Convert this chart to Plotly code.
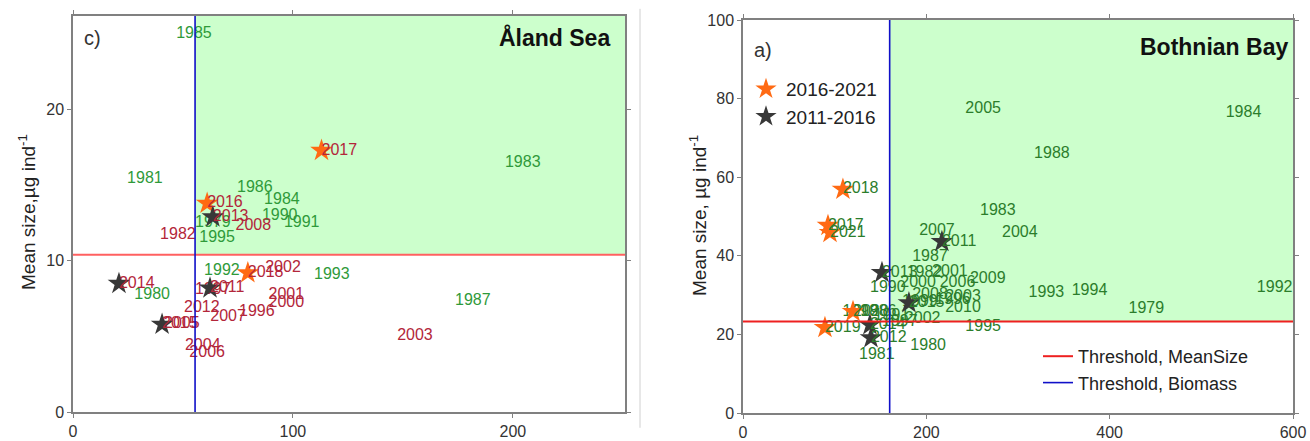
import plotly.graph_objects as go

W, H = 1310, 441

# ---------------- Left panel: Aland Sea ----------------
L_green_years = ["1985", "1981", "1986", "1984", "1990", "1991", "1979", "1995", "1992", "1993", "1987", "1983", "1980"]
L_green_x = [55, 32.7, 82.7, 95, 94, 104, 63.6, 65.5, 67.7, 117.7, 181.8, 204.5, 36]
L_green_y = [25.0, 15.4, 14.8, 14.0, 13.0, 12.5, 12.5, 11.5, 9.3, 9.07, 7.35, 16.5, 7.75]

L_red_years = ["1982", "2008", "2002", "2001", "2000", "1996", "2007", "2012", "2005", "2004", "2006", "2003", "1997"]
L_red_x = [47.7, 82, 95.5, 97, 97, 83.6, 70.5, 58.6, 49.5, 59, 61, 155.5, 63.6]
L_red_y = [11.7, 12.3, 9.5, 7.75, 7.2, 6.6, 6.3, 6.9, 5.8, 4.4, 3.9, 5.0, 8.1]

L_orange_years = ["2016", "2017", "2018"]
L_orange_x = [61, 113, 79.5]
L_orange_y = [13.8, 17.3, 9.2]

L_black_years = ["2013", "2014", "2011", "2015"]
L_black_x = [63.6, 20.9, 62.3, 40.5]
L_black_y = [12.9, 8.5, 8.2, 5.8]

L_thr_size = 10.4
L_thr_biomass = 55.5
L_xmax, L_ymax = 251, 26.2

# ---------------- Right panel: Bothnian Bay ----------------
R_green_years = ["2005", "1984", "1988", "1983", "2004", "2007", "1987", "1982", "2001", "2009",
                 "1993", "1994", "1979", "1992", "1990", "2000", "2006", "2008", "2003", "1996",
                 "1999", "2010", "1995", "1980", "1981", "2002", "1998", "1986", "1991", "1997"]
R_green_x = [262, 546, 337, 278, 302, 211.6, 204, 198, 225.7, 267,
             331, 378, 440, 580, 158, 191, 234, 204, 240, 229,
             193, 240, 262, 202, 146, 196, 128, 148, 162, 171]
R_green_y = [77.3, 76.3, 65.8, 51.5, 45.7, 46.4, 39.8, 35.7, 36.0, 34,
             30.6, 31.1, 26.5, 31.9, 31.9, 33, 33, 30, 29.6, 28.8,
             28.3, 26.8, 22, 17.1, 14.8, 24, 25.8, 25.8, 24.7, 23.2]

R_orange_years = ["2018", "2017", "2021", "2020", "2019"]
R_orange_x = [109, 92.7, 94.9, 120, 89.4]
R_orange_y = [56.9, 47.7, 45.9, 25.8, 21.7]

R_black_years = ["2011", "2013", "2015", "2014", "2012"]
R_black_x = [217, 151.6, 181, 138.5, 139.6]
R_black_y = [43.6, 35.7, 28, 22.4, 19.1]

R_thr_size = 23.3
R_thr_biomass = 160
R_xmax, R_ymax = 600, 100

# ---------------- styles ----------------
FONT = "Liberation Sans, Arial, sans-serif"
GREEN_L = "#2f9a3a"
GREEN_R = "#2b7d2b"
RED_T = "#b3263a"
ORANGE = "#ff6a13"
BLACK = "#383838"
FILL = "#ccffcc"
LBL = 16

fig = go.Figure()

def txt(x, y, t, color, xa, ya, pos="middle center"):
    fig.add_trace(go.Scatter(x=x, y=y, text=t, mode="text", textposition=pos,
                             textfont=dict(color=color, size=LBL, family=FONT),
                             xaxis=xa, yaxis=ya, showlegend=False, hoverinfo="skip"))

def stars(x, y, color, xa, ya, name=None, legend=None):
    fig.add_trace(go.Scatter(x=x, y=y, mode="markers",
                             marker=dict(symbol="star", size=17, color=color, line=dict(width=0)),
                             xaxis=xa, yaxis=ya, name=name or "",
                             showlegend=name is not None, legend=legend or "legend"))

# Left panel texts and stars
txt(L_green_x, L_green_y, L_green_years, GREEN_L, "x", "y")
txt(L_red_x, L_red_y, L_red_years, RED_T, "x", "y")
stars(L_orange_x, L_orange_y, ORANGE, "x", "y")
stars(L_black_x, L_black_y, BLACK, "x", "y")
txt(L_orange_x, L_orange_y, L_orange_years, RED_T, "x", "y", "middle right")
txt(L_black_x, L_black_y, L_black_years, RED_T, "x", "y", "middle right")

# Right panel texts and stars
txt(R_green_x, R_green_y, R_green_years, GREEN_R, "x2", "y2")
stars(R_orange_x, R_orange_y, ORANGE, "x2", "y2", "2016-2021", "legend")
stars(R_black_x, R_black_y, BLACK, "x2", "y2", "2011-2016", "legend")
txt(R_orange_x, R_orange_y, R_orange_years, GREEN_R, "x2", "y2", "middle right")
txt(R_black_x, R_black_y, R_black_years, GREEN_R, "x2", "y2", "middle right")

# Threshold lines (left, no legend)
fig.add_trace(go.Scatter(x=[0, L_xmax], y=[L_thr_size, L_thr_size], mode="lines",
                         line=dict(color="#ff6060", width=2), xaxis="x", yaxis="y",
                         showlegend=False, hoverinfo="skip"))
fig.add_trace(go.Scatter(x=[L_thr_biomass, L_thr_biomass], y=[0, L_ymax], mode="lines",
                         line=dict(color="#1010c8", width=1.6), xaxis="x", yaxis="y",
                         showlegend=False, hoverinfo="skip"))
# Threshold lines (right, legend2)
fig.add_trace(go.Scatter(x=[0, R_xmax], y=[R_thr_size, R_thr_size], mode="lines",
                         line=dict(color="#ee2020", width=2), xaxis="x2", yaxis="y2",
                         name="Threshold, MeanSize", legend="legend2", hoverinfo="skip"))
fig.add_trace(go.Scatter(x=[R_thr_biomass, R_thr_biomass], y=[0, R_ymax], mode="lines",
                         line=dict(color="#1010c8", width=1.6), xaxis="x2", yaxis="y2",
                         name="Threshold, Biomass", legend="legend2", hoverinfo="skip"))

# Green "good status" areas
shapes = [
    dict(type="rect", xref="x", yref="y", x0=L_thr_biomass, x1=L_xmax, y0=L_thr_size, y1=L_ymax,
         fillcolor=FILL, line=dict(width=0), layer="below"),
    dict(type="rect", xref="x2", yref="y2", x0=R_thr_biomass, x1=R_xmax, y0=R_thr_size, y1=R_ymax,
         fillcolor=FILL, line=dict(width=0), layer="below"),
    dict(type="line", xref="paper", yref="paper", x0=640 / W, x1=640 / W, y0=0.03, y1=0.98,
         line=dict(color="#d0d0d0", width=1)),
]

def px(xp):
    return xp / W

def py(yp):
    return 1 - yp / H

axis_common = dict(showgrid=False, zeroline=False, showline=True, linecolor="#808080", linewidth=1.5,
                   mirror="ticks", ticks="outside", ticklen=4, tickcolor="#808080", automargin=False,
                   tickfont=dict(size=16, color="#333333", family=FONT))

fig.update_layout(
    width=W, height=H, margin=dict(l=0, r=0, t=0, b=0, pad=0, autoexpand=False),
    paper_bgcolor="white", plot_bgcolor="white",
    xaxis=dict(domain=[px(73), px(625)], range=[0, L_xmax], tickvals=[0, 100, 200], anchor="y", **axis_common),
    yaxis=dict(domain=[py(412), py(16)], range=[0, L_ymax], tickvals=[0, 10, 20], anchor="x", **axis_common),
    xaxis2=dict(domain=[px(743), px(1293)], range=[0, R_xmax], tickvals=[0, 200, 400, 600], anchor="y2", **axis_common),
    yaxis2=dict(domain=[py(413), py(20)], range=[0, R_ymax], tickvals=[0, 20, 40, 60, 80, 100], anchor="x2", **axis_common),
    shapes=shapes,
    legend=dict(x=px(746), y=py(70), xanchor="left", yanchor="top", bgcolor="rgba(0,0,0,0)",
                font=dict(size=19, color="#222222", family=FONT), itemwidth=30, tracegroupgap=0),
    legend2=dict(x=px(1038), y=py(338), xanchor="left", yanchor="top", bgcolor="rgba(0,0,0,0)",
                 font=dict(size=18, color="#222222", family=FONT), itemwidth=30, tracegroupgap=0),
    annotations=[
        dict(text="c)", xref="paper", yref="paper", x=px(82), y=py(38), xanchor="left", yanchor="middle",
             showarrow=False, font=dict(size=20, color="#333333", family=FONT)),
        dict(text="<b>Åland Sea</b>", xref="paper", yref="paper", x=px(612), y=py(38), xanchor="right",
             yanchor="middle", showarrow=False, font=dict(size=23, color="#111111", family=FONT)),
        dict(text="a)", xref="paper", yref="paper", x=px(752), y=py(50), xanchor="left", yanchor="middle",
             showarrow=False, font=dict(size=20, color="#333333", family=FONT)),
        dict(text="<b>Bothnian Bay</b>", xref="paper", yref="paper", x=px(1290), y=py(47), xanchor="right",
             yanchor="middle", showarrow=False, font=dict(size=23, color="#111111", family=FONT)),
        dict(text="Mean size,µg ind<sup>-1</sup>", xref="paper", yref="paper", x=px(27), y=py(212),
             xanchor="center", yanchor="middle", textangle=-90, showarrow=False,
             font=dict(size=19, color="#222222", family=FONT)),
        dict(text="Mean size, µg ind<sup>-1</sup>", xref="paper", yref="paper", x=px(698), y=py(216),
             xanchor="center", yanchor="middle", textangle=-90, showarrow=False,
             font=dict(size=19, color="#222222", family=FONT)),
    ],
)

fig.write_html("out.html", config={"displayModeBar": False},
               post_script="document.body.style.margin='0px';document.body.style.overflow='hidden';")
